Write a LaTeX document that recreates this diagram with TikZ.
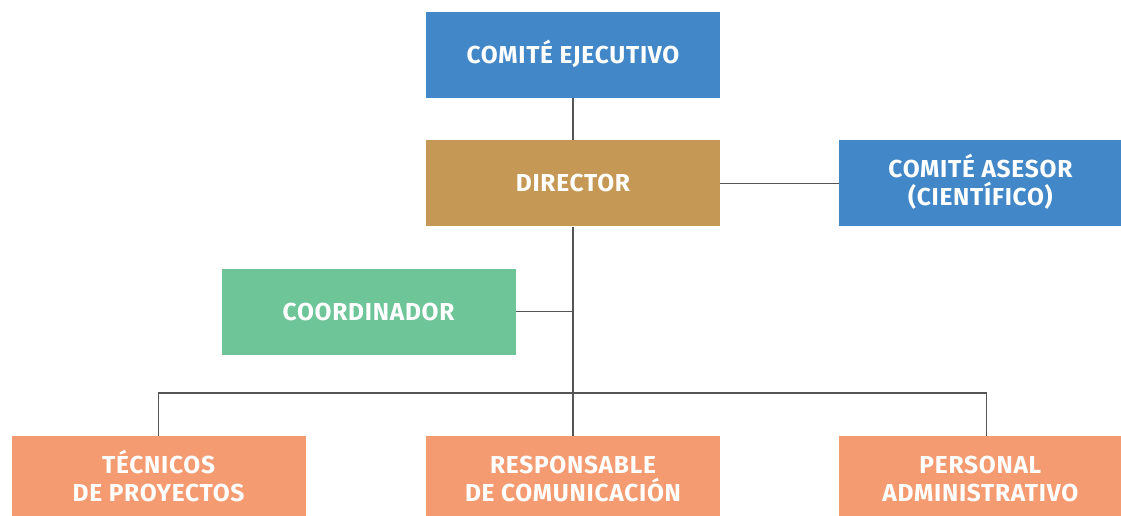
\documentclass[tikz,border=0pt]{standalone}
\usepackage{fontspec}
\setsansfont[LetterSpace=3]{Fira Sans}
\usepackage{tikz}
\usetikzlibrary{positioning}

\definecolor{azul}{HTML}{4287C7}
\definecolor{ocre}{HTML}{C59855}
\definecolor{verde}{HTML}{6DC598}
\definecolor{salmon}{HTML}{F59B71}
\definecolor{linea}{HTML}{555555}
% one line of caps, centred on the capitals
\newcommand\capl[1]{\rule{0pt}{17pt}\smash{#1}}
% first line of a bottom box, set a bit lower
\newcommand\capd[1]{\rule{0pt}{23pt}\smash{#1}}

\begin{document}
\begin{tikzpicture}[unit/.style = {align=center, text centered, text=white,
        font=\sffamily\bfseries\fontsize{24.5}{28}\selectfont, rectangle,
        draw=none, inner sep=0pt, minimum width=294pt, minimum height=86pt},
      low/.style = {unit, minimum height=81pt},
      link/.style = {draw=linea, line width=1.2pt}]
      \useasboundingbox (0,0) rectangle (1121pt,-516pt);
      \node[unit, fill=azul] (ejec) at (573pt,-55pt) {\capl{COMITÉ EJECUTIVO}};
      \node[below = 42pt of ejec, unit, fill=ocre] (dir) {\capl{DIRECTOR}};
      \node[right = 119pt of dir, unit, fill=azul, minimum width=282pt]
      (ases) {\capl{COMITÉ ASESOR}\\\capl{(CIENTÍFICO)}};
      \node[below left = 42pt and -90pt of dir, unit, fill=verde] (coord)
      {\capl{COORDINADOR}};
      \node[below = 209pt of dir, low, fill=salmon] (resp)
      {\capd{RESPONSABLE}\\\capl{DE COMUNICACIÓN}};
      \node[left = 120pt of resp, low, fill=salmon] (tec)
      {\capd{TÉCNICOS}\\\capl{DE PROYECTOS}};
      \node[right = 119pt of resp, low, fill=salmon, minimum width=282pt]
      (pers) {\capd{PERSONAL}\\\capl{ADMINISTRATIVO}};
      \coordinate (bus) at (573pt,-393pt);
      \draw[link] (ejec) -- (dir); \draw[link] (dir) -- (ases);
      \draw[link] (dir) -- (resp);
      \draw[link] (coord.east) -- (coord.east -| dir.south);
      \draw[link] (tec.north) |- (bus);
      \draw[link] ([xshift=6pt]pers.north) |- (bus);
    \end{tikzpicture}
\end{document}
